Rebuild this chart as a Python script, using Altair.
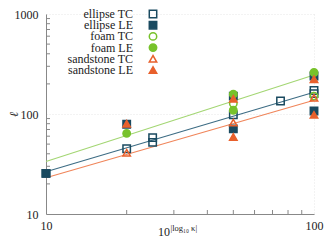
import altair as alt
import pandas as pd

# ---- data ----
series_names = ["ellipse TC", "ellipse LE", "foam TC", "foam LE", "sandstone TC", "sandstone LE"]
series_colors = ["#1a4a60", "#1a4a60", "#77c22b", "#77c22b", "#e8602c", "#e8602c"]
series_fills = ["transparent", "#1a4a60", "transparent", "#77c22b", "transparent", "#e8602c"]
series_shapes = ["square", "square", "circle", "circle", "triangle-up", "triangle-up"]

ellipse_tc_x = [10, 20, 25, 25, 50, 75, 100, 100]
ellipse_tc_y = [25.5, 45, 52, 58, 98, 135, 160, 172]
ellipse_le_x = [10, 20, 50, 50, 100, 100]
ellipse_le_y = [25.5, 79, 151, 71, 240, 107]
foam_tc_x = [50, 100]
foam_tc_y = [127, 151]
foam_le_x = [20, 50, 50, 100]
foam_le_y = [64, 158, 109, 260]
sand_tc_x = [20, 50, 100]
sand_tc_y = [41, 82, 145]
sand_le_x = [20, 50, 50, 100, 100]
sand_le_y = [80, 142, 59, 223, 98]

fit_names = ["ellipse", "foam", "sandstone"]
fit_colors = ["#3d6c84", "#a3d673", "#f0855a"]
fit_x = [10, 100]
fit_ellipse = [26.5, 165]
fit_foam = [33.5, 245]
fit_sandstone = [23, 137]

minor_x = [20, 30, 40, 50, 60, 70, 80, 90]
minor_y = [20, 30, 40, 50, 60, 70, 80, 90, 200, 300, 400, 500, 600, 700, 800, 900]

# ---- tables ----
rows = []
for name, xs, ys in [
    ("ellipse TC", ellipse_tc_x, ellipse_tc_y),
    ("ellipse LE", ellipse_le_x, ellipse_le_y),
    ("foam TC", foam_tc_x, foam_tc_y),
    ("foam LE", foam_le_x, foam_le_y),
    ("sandstone TC", sand_tc_x, sand_tc_y),
    ("sandstone LE", sand_le_x, sand_le_y),
]:
    for a, b in zip(xs, ys):
        rows.append({"series": name, "k": a, "l": b, "idx": len(rows)})
pts = pd.DataFrame(rows)

lrows = []
for name, ys in zip(fit_names, [fit_ellipse, fit_foam, fit_sandstone]):
    for a, b in zip(fit_x, ys):
        lrows.append({"fit": name, "k": a, "l": b})
lines_df = pd.DataFrame(lrows)

legend_df = pd.DataFrame({"series": series_names, "row": list(range(len(series_names)))})

W, H = 268, 200
SERIF = "Liberation Serif"

xscale = alt.Scale(type="log", domain=[10, 100], nice=False)
yscale = alt.Scale(type="log", domain=[10, 1000], nice=False)

xaxis = alt.Axis(values=[10, 100], format="d", title=None, tickSize=0, labelPadding=6,
                 labelFlush=False,
                 labelFont=SERIF, labelFontSize=12, labelColor="#222",
                 domainColor="#888", grid=True, gridColor="#e6e6e6", gridDash=[1, 2])
yaxis = alt.Axis(values=[10, 100, 1000], format="d", title="ℓ", tickSize=0, labelPadding=8,
                 labelFlush=False,
                 labelFont=SERIF, labelFontSize=12, labelColor="#222",
                 titleFont=SERIF, titleFontSize=12, titleFontStyle="italic",
                 titleFontWeight="normal", titleColor="#222",
                 titleX=-33, titleY=H / 2, titleAlign="center", titleBaseline="middle",
                 domainColor="#888", grid=True, gridColor="#e6e6e6", gridDash=[1, 2])

color_scale = alt.Scale(domain=series_names, range=series_colors)
fill_scale = alt.Scale(domain=series_names, range=series_fills)
shape_scale = alt.Scale(domain=series_names, range=series_shapes)

lines = alt.Chart(lines_df).mark_line(strokeWidth=1.1).encode(
    x=alt.X("k:Q", scale=xscale, axis=xaxis),
    y=alt.Y("l:Q", scale=yscale, axis=yaxis),
    stroke=alt.Stroke("fit:N", scale=alt.Scale(domain=fit_names, range=fit_colors), legend=None),
    detail="fit:N",
)

points = alt.Chart(pts).mark_point(filled=False, size=55, strokeWidth=1.5, opacity=1).encode(
    x=alt.X("k:Q", scale=xscale, axis=xaxis),
    y=alt.Y("l:Q", scale=yscale, axis=yaxis),
    color=alt.Color("series:N", scale=color_scale, legend=None),
    fill=alt.Fill("series:N", scale=fill_scale, legend=None),
    shape=alt.Shape("series:N", scale=shape_scale, legend=None),
    order=alt.Order("idx:Q"),
)

ticks_y = alt.Chart(pd.DataFrame({"v": minor_y})).mark_rule(color="#888", strokeWidth=1).encode(
    y=alt.Y("v:Q", scale=yscale, axis=yaxis), x=alt.value(0), x2=alt.value(4))
ticks_x = alt.Chart(pd.DataFrame({"v": minor_x})).mark_rule(color="#888", strokeWidth=1).encode(
    x=alt.X("v:Q", scale=xscale, axis=xaxis), y=alt.value(H), y2=alt.value(H - 4))

main = alt.layer(lines, ticks_y, ticks_x, points)

# manual legend: labels right-aligned to the left of the symbols
ly = alt.Y("row:O", scale=alt.Scale(type="point", domain=list(range(6)), range=[0, 56], padding=0),
           axis=None)
leg_text = alt.Chart(legend_df).mark_text(
    font=SERIF, fontSize=12, align="right", baseline="middle", color="#222"
).encode(text="series:N", y=ly, x=alt.value(87))
leg_sym = alt.Chart(legend_df).mark_point(filled=False, size=55, strokeWidth=1.5, opacity=1).encode(
    y=ly, x=alt.value(107),
    color=alt.Color("series:N", scale=color_scale, legend=None),
    fill=alt.Fill("series:N", scale=fill_scale, legend=None),
    shape=alt.Shape("series:N", scale=shape_scale, legend=None),
)
legend_layer = alt.layer(leg_text, leg_sym)

t_main = alt.Chart(pd.DataFrame({"t": ["10"]})).mark_text(
    font=SERIF, fontSize=12, align="right", baseline="alphabetic", color="#222"
).encode(text="t:N", x=alt.value(124), y=alt.value(222))
t_sup = alt.Chart(pd.DataFrame({"t": ["|log₁₀ κ|"]})).mark_text(
    font=SERIF, fontSize=8.5, align="left", baseline="alphabetic", color="#222"
).encode(text="t:N", x=alt.value(124.5), y=alt.value(217))
title_layer = alt.layer(t_main, t_sup)

chart = alt.layer(main, legend_layer, title_layer).properties(
    width=W, height=H,
    autosize=alt.AutoSizeParams(type="none"),
    padding={"left": 38, "top": 6, "right": 10, "bottom": 25},
).resolve_scale(y="independent", stroke="independent").configure_view(stroke=None)

chart.save("out.html", embed_options={"renderer": "svg", "actions": False})
